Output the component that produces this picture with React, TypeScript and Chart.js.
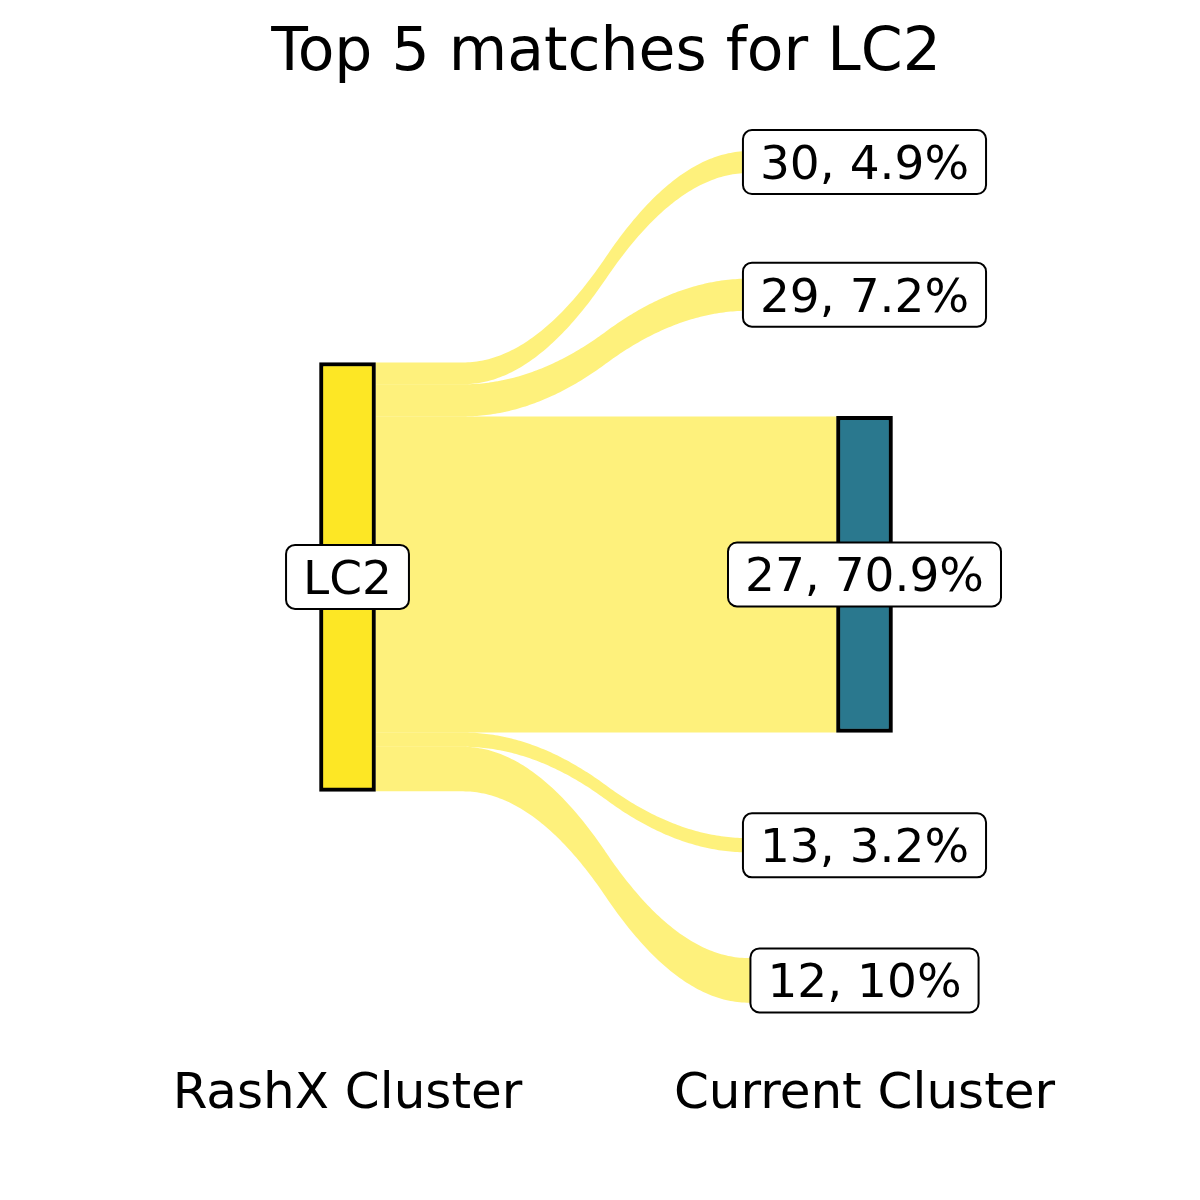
import React, { useEffect, useRef } from "react";
import { Chart, registerables } from "chart.js";

Chart.register(...registerables);

// ---- data ----
const chartTitle = "Top 5 matches for LC2";
const sourceLabel = "LC2";
const targetLabels = ["30", "29", "27", "13", "12"];
const targetPercents = [4.9, 7.2, 70.9, 3.2, 10];
const axisLabels = ["RashX Cluster", "Current Cluster"];
const nodeGap = 23.7;

// ---- styles ----
const SOURCE_COLOR = "#FDE725";
const TARGET_COLOR = "#2A788E";
const FLOW_COLOR = "rgba(253, 231, 37, 0.6)";
const FONT = "DejaVu Sans";

// layout of nodes (in percent units on the y scale)
const total = targetPercents.reduce((a, b) => a + b, 0);
const stackHeight = total + nodeGap * (targetPercents.length - 1);
const targetRanges: [number, number][] = [];
{
  let cursor = stackHeight;
  for (const p of targetPercents) {
    targetRanges.push([cursor - p, cursor]);
    cursor = cursor - p - nodeGap;
  }
}
const srcCenter = stackHeight / 2;
const sourceRange: [number, number] = [srcCenter - total / 2, srcCenter + total / 2];
const sourceSegments: [number, number][] = [];
{
  let cursor = sourceRange[1];
  for (const p of targetPercents) {
    sourceSegments.push([cursor - p, cursor]);
    cursor -= p;
  }
}

function profile(f: number) {
  const a = 0.19;
  const b = 0.81;
  let s = (f - a) / (b - a);
  if (s < 0) s = 0;
  if (s > 1) s = 1;
  return s < 0.5 ? 2 * s * s : 1 - 2 * (1 - s) * (1 - s);
}

const flowPlugin = {
  id: "sankeyFlows",
  beforeDatasetsDraw(chart: any) {
    const ctx = chart.ctx;
    const y = chart.scales.y;
    const src = chart.getDatasetMeta(0).data[0];
    const x0 = src.x + src.width / 2;
    ctx.save();
    ctx.fillStyle = FLOW_COLOR;
    targetPercents.forEach((_, i) => {
      const tgt = chart.getDatasetMeta(i + 1).data[1];
      const x1 = tgt.x - tgt.width / 2;
      const lTop = y.getPixelForValue(sourceSegments[i][1]);
      const lBot = y.getPixelForValue(sourceSegments[i][0]);
      const rTop = y.getPixelForValue(targetRanges[i][1]);
      const rBot = y.getPixelForValue(targetRanges[i][0]);
      const N = 200;
      ctx.beginPath();
      for (let j = 0; j <= N; j++) {
        const f = j / N;
        const px = x0 + (x1 - x0) * f;
        const py = lTop + (rTop - lTop) * profile(f);
        if (j === 0) ctx.moveTo(px, py);
        else ctx.lineTo(px, py);
      }
      for (let j = N; j >= 0; j--) {
        const f = j / N;
        const px = x0 + (x1 - x0) * f;
        const py = lBot + (rBot - lBot) * profile(f);
        ctx.lineTo(px, py);
      }
      ctx.closePath();
      ctx.fill();
    });
    ctx.restore();
  },
};

function drawLabel(ctx: CanvasRenderingContext2D, text: string, cx: number, cy: number) {
  ctx.font = `47px "${FONT}"`;
  const w = ctx.measureText(text).width + 34;
  const h = 64;
  ctx.beginPath();
  (ctx as any).roundRect(cx - w / 2, cy - h / 2, w, h, 9);
  ctx.fillStyle = "#ffffff";
  ctx.fill();
  ctx.lineWidth = 2;
  ctx.strokeStyle = "#000000";
  ctx.stroke();
  ctx.fillStyle = "#000000";
  ctx.textAlign = "center";
  ctx.textBaseline = "alphabetic";
  ctx.fillText(text, cx, cy + 17);
}

const labelPlugin = {
  id: "sankeyLabels",
  afterDatasetsDraw(chart: any) {
    const ctx = chart.ctx;
    ctx.save();
    const src = chart.getDatasetMeta(0).data[0];
    drawLabel(ctx, sourceLabel, src.x, (src.y + src.base) / 2);
    targetLabels.forEach((lab, i) => {
      const tgt = chart.getDatasetMeta(i + 1).data[1];
      drawLabel(ctx, `${lab}, ${targetPercents[i]}%`, tgt.x, (tgt.y + tgt.base) / 2);
    });
    ctx.restore();
  },
};

export default function App() {
  const canvasRef = useRef<HTMLCanvasElement | null>(null);

  useEffect(() => {
    document.body.style.margin = "0";
    if (!canvasRef.current) return;
    Chart.defaults.font.family = FONT;

    const datasets: any[] = [
      {
        label: sourceLabel,
        data: [sourceRange, null],
        backgroundColor: SOURCE_COLOR,
      },
      ...targetLabels.map((lab, i) => ({
        label: lab,
        data: [null, targetRanges[i]],
        backgroundColor: TARGET_COLOR,
      })),
    ].map((d) => ({
      ...d,
      borderColor: "#000000",
      borderWidth: 4,
      borderSkipped: false,
      barThickness: 56,
      grouped: false,
    }));

    const chart = new Chart(canvasRef.current, {
      type: "bar",
      data: { labels: axisLabels, datasets },
      options: {
        animation: false,
        responsive: true,
        maintainAspectRatio: false,
        layout: { padding: { left: 89, right: 77, top: 0, bottom: 35 } },
        plugins: {
          legend: { display: false },
          tooltip: { enabled: false },
          title: {
            display: true,
            text: chartTitle,
            color: "#000000",
            font: { family: FONT, size: 60, weight: "normal" },
            padding: { top: 18, bottom: 21 },
          },
        },
        scales: {
          x: {
            type: "category",
            offset: true,
            grid: { display: false, drawTicks: false },
            border: { display: false },
            ticks: {
              color: "#000000",
              font: { family: FONT, size: 50 },
              padding: 40,
              maxRotation: 0,
              autoSkip: false,
            },
          },
          y: {
            type: "linear",
            display: false,
            min: -5,
            max: 200,
          },
        },
      } as any,
      plugins: [flowPlugin, labelPlugin],
    });
    return () => chart.destroy();
  }, []);

  return (
    <div style={{ width: 1200, height: 1200, position: "relative", background: "#ffffff" }}>
      <canvas ref={canvasRef} />
    </div>
  );
}
